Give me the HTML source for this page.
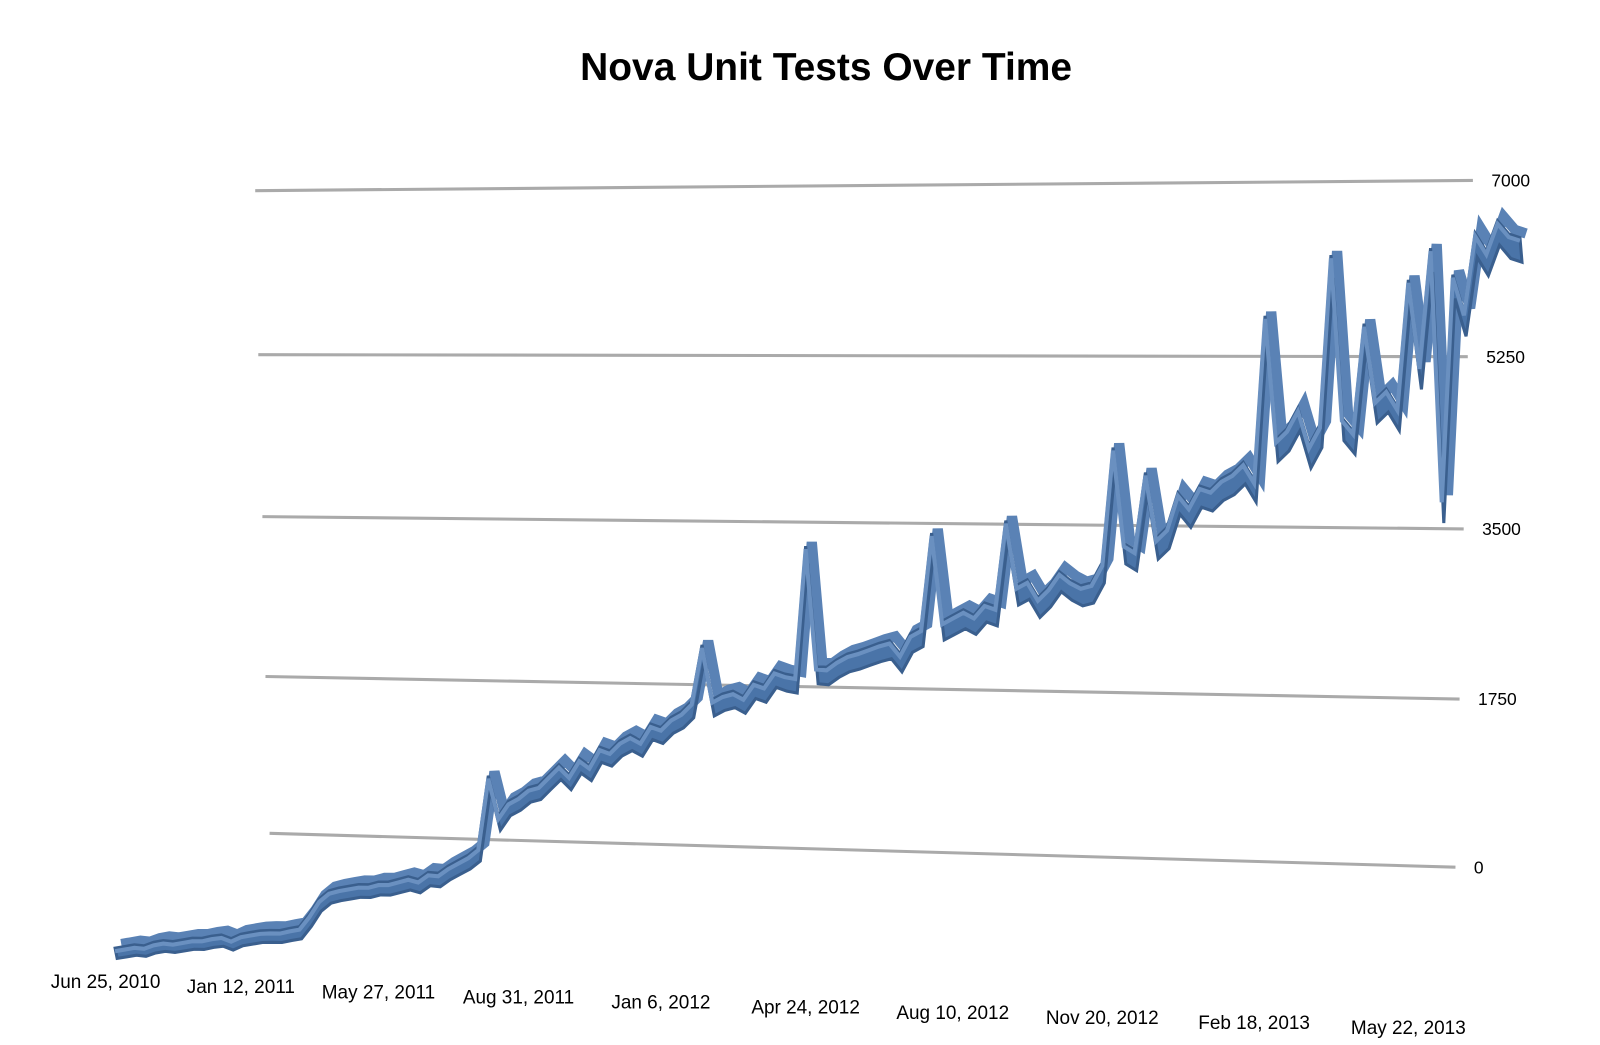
<!DOCTYPE html>
<html><head><meta charset="utf-8"><style>
html,body{margin:0;padding:0;background:#fff;}
svg{display:block;}
text{font-family:"Liberation Sans",Arial,sans-serif;fill:#000;}
</style></head><body>
<svg id="chart" width="1600" height="1045" viewBox="0 0 1561 1019.5" xmlns="http://www.w3.org/2000/svg">
<text x="806" y="78" text-anchor="middle" font-size="38" font-weight="bold">Nova Unit Tests Over Time</text>
<g id="grid"></g>
<g id="series"></g>
<g id="xlabels"></g>
</svg>
<script>
const yTicks = [0, 1750, 3500, 5250, 7000];
const yTickLabels = ["0", "1750", "3500", "5250", "7000"];
const xLabels = ["Jun 25, 2010","Jan 12, 2011","May 27, 2011","Aug 31, 2011","Jan 6, 2012","Apr 24, 2012","Aug 10, 2012","Nov 20, 2012","Feb 18, 2013","May 22, 2013"];
const xLabelIndex = [0,14,28,42,56,70,84,98,112,126];
const testCounts = [
400,410,420,400,430,440,420,430,440,
430,445,450,400,440,450,460,455,445,460,
470,600,760,840,860,870,880,870,890,880,
900,920,880,950,930,1000,1050,1100,1180,1950,
1500,1650,1700,1780,1800,1900,2000,1880,2050,1960,
2150,2100,2200,2250,2180,2350,2300,2400,2450,2550,
3150,2550,2600,2620,2550,2700,2650,2800,2750,2720,
4100,2800,2780,2850,2900,2920,2950,2980,3000,2850,
3050,3100,4100,3150,3200,3250,3180,3300,3250,4150,
3450,3500,3300,3400,3550,3450,3380,3400,3600,4800,
3780,3700,4500,3800,3900,4250,4100,4300,4250,4350,
4400,4500,4300,6000,4700,4800,5000,4600,4800,6550,
4850,4700,5800,5000,5100,4900,6200,5300,6500,3900,
6200,5800,6600,6400,6700,6550,6500
];
const NS="http://www.w3.org/2000/svg";
function xScale(i){return 103+9.344*i+0.0059*i*i;}
function yb(x){return 960-(x-110)*0.08;}
function sc(x){return 0.087+(x-110)/1350*0.008;}
function yScale(x,v){return yb(x)-v*sc(x);}
function gridY(v,side){
  const L=[[813,263],[660,259],[504,256],[346,252],[186,249]];
  const R=[[846,1420],[682,1424],[516,1428],[348,1432],[176,1437]];
  const f=v/1750, k=Math.min(3,Math.floor(f)), t=f-k;
  const A=side?R:L;
  return [A[k][1]+(A[k+1][1]-A[k][1])*t, A[k][0]+(A[k+1][0]-A[k][0])*t];
}
const grid=document.getElementById('grid');
yTicks.forEach((v,j)=>{
  const p0=gridY(v,0), p1=gridY(v,1);
  const ln=document.createElementNS(NS,'line');
  ln.setAttribute('x1',p0[0]);ln.setAttribute('y1',p0[1]);ln.setAttribute('x2',p1[0]);ln.setAttribute('y2',p1[1]);
  ln.setAttribute('stroke','#aaaaaa');ln.setAttribute('stroke-width','3');
  
  
  grid.appendChild(ln);
  const tx=document.createElementNS(NS,'text');
  tx.setAttribute('x',p1[0]+18);tx.setAttribute('y',p1[1]+6);tx.setAttribute('font-size','17');
  tx.textContent=yTickLabels[j];
  
  
  grid.appendChild(tx);
});
const ser=document.getElementById('series');
const pts=testCounts.map((v,k)=>{const x=xScale(k+1);return [x,yScale(x,v)];});
function depth(x){return 10+(x-110)/1370*14;}
const back=document.createElementNS(NS,'polyline');
back.setAttribute('points',pts.map(p=>(p[0]+6).toFixed(1)+','+(p[1]-4).toFixed(1)).join(' '));
back.setAttribute('fill','none');back.setAttribute('stroke','#5a82b5');back.setAttribute('stroke-width','10');
back.setAttribute('stroke-linejoin','miter');back.setAttribute('stroke-miterlimit','4');


ser.appendChild(back);
const topPts=pts.map(p=>p[0].toFixed(1)+','+p[1].toFixed(1)).join(' ');
const botPts=pts.slice().reverse().map(p=>(p[0]+2).toFixed(1)+','+(p[1]+depth(p[0])).toFixed(1)).join(' ');
const body=document.createElementNS(NS,'polygon');
body.setAttribute('points',topPts+' '+botPts);
body.setAttribute('fill','#4a74a8');body.setAttribute('stroke','#3a5f8e');body.setAttribute('stroke-width','3');
body.setAttribute('stroke-linejoin','miter');


ser.appendChild(body);
const hl=document.createElementNS(NS,'polyline');
hl.setAttribute('points',pts.map(p=>p[0].toFixed(1)+','+(p[1]+3).toFixed(1)).join(' '));
hl.setAttribute('fill','none');hl.setAttribute('stroke','#6a90c0');hl.setAttribute('stroke-width','4');


ser.appendChild(hl);
const xl=document.getElementById('xlabels');
xLabels.forEach((s,j)=>{
  const x=xScale(xLabelIndex[j]);
  const t=document.createElementNS(NS,'text');
  t.setAttribute('x',x);t.setAttribute('y',964+j*5);t.setAttribute('text-anchor','middle');t.setAttribute('font-size','18.5');
  t.textContent=s;
  
  
  xl.appendChild(t);
});
</script>
</body></html>
